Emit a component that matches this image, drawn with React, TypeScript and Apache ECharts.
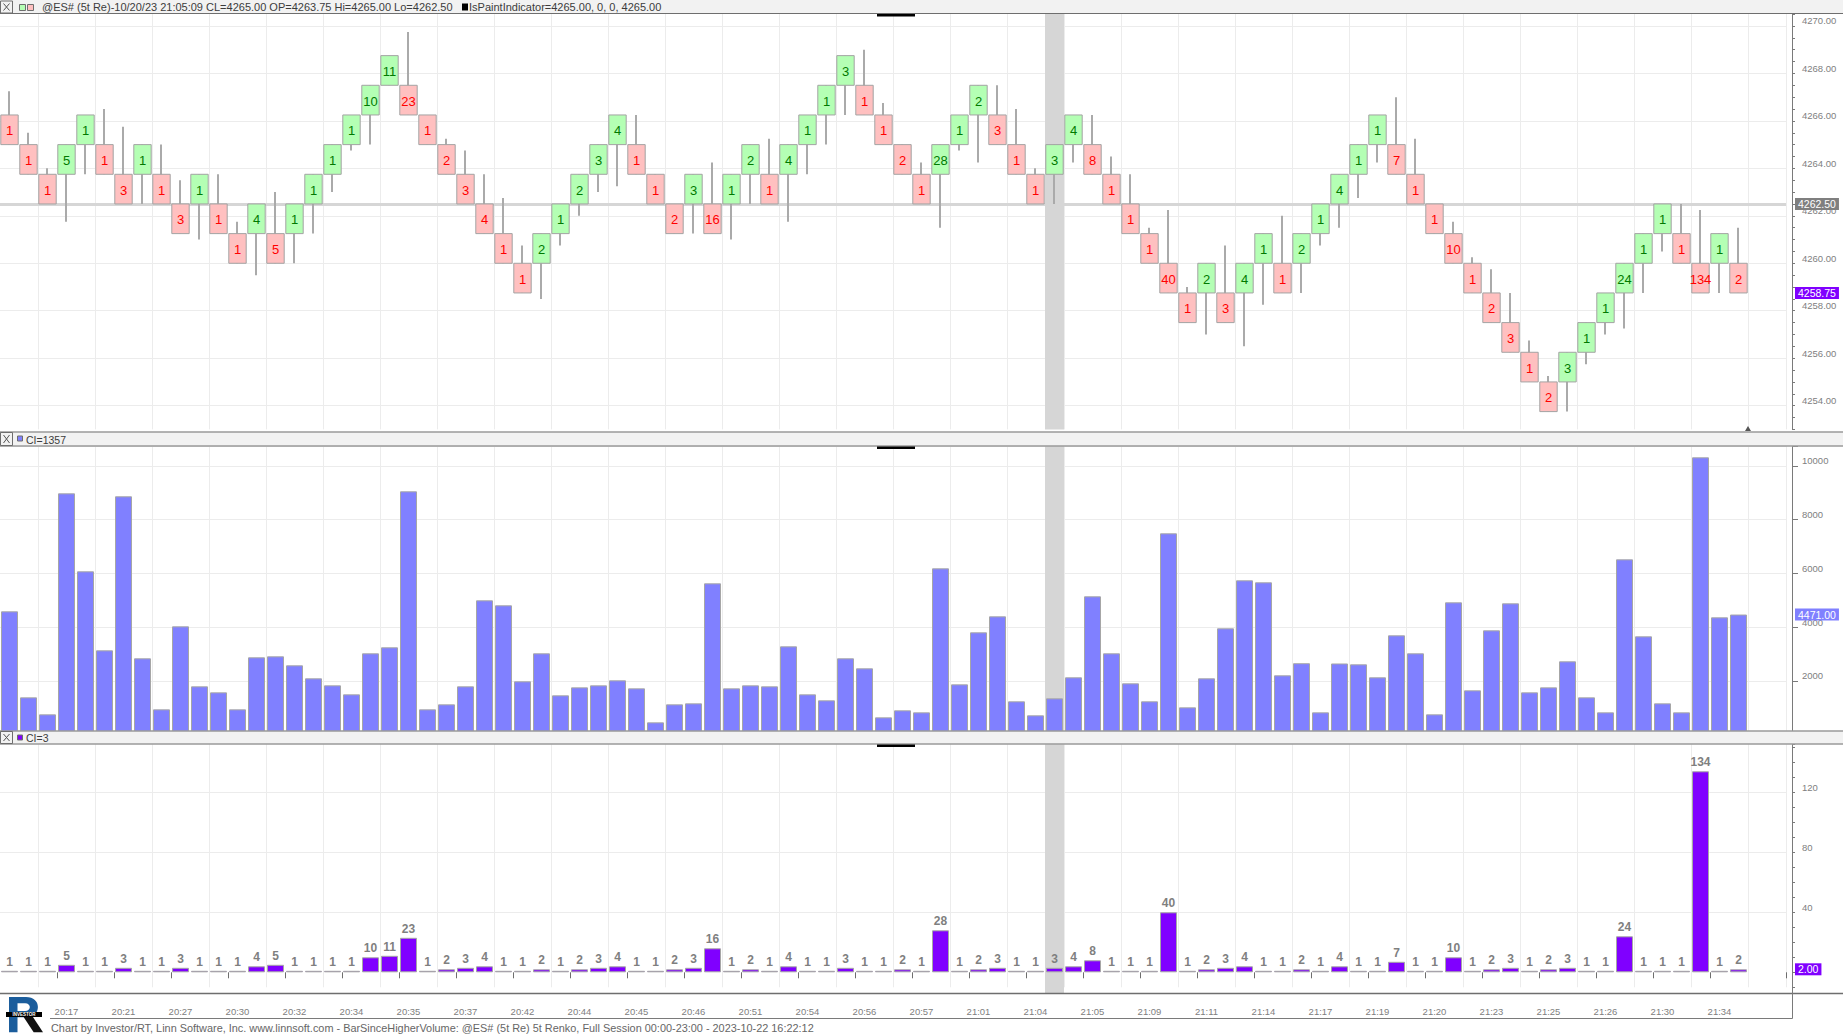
import React, { useEffect, useRef } from 'react';
import * as echarts from 'echarts';

// ---------------- data ----------------
const timeLabels = ['20:17', '20:21', '20:27', '20:30', '20:32', '20:34', '20:35', '20:37', '20:42', '20:44', '20:45', '20:46', '20:51', '20:54', '20:56', '20:57', '21:01', '21:04', '21:05', '21:09', '21:11', '21:14', '21:17', '21:19', '21:20', '21:23', '21:25', '21:26', '21:30', '21:34'];

const renkoOpen = [
  4266.25, 4265, 4263.75, 4263.75, 4265, 4265, 4263.75, 4263.75, 4263.75, 4262.5,
  4262.5, 4262.5, 4261.25, 4261.25, 4261.25, 4261.25, 4262.5, 4263.75, 4265, 4266.25,
  4267.5, 4267.5, 4266.25, 4265, 4263.75, 4262.5, 4261.25, 4260, 4260, 4261.25,
  4262.5, 4263.75, 4265, 4265, 4263.75, 4262.5, 4262.5, 4262.5, 4262.5, 4263.75,
  4263.75, 4263.75, 4265, 4266.25, 4267.5, 4267.5, 4266.25, 4265, 4263.75, 4263.75,
  4265, 4266.25, 4266.25, 4265, 4263.75, 4263.75, 4265, 4265, 4263.75, 4262.5,
  4261.25, 4260, 4258.75, 4258.75, 4258.75, 4258.75, 4260, 4260, 4260, 4261.25,
  4262.5, 4263.75, 4265, 4265, 4263.75, 4262.5, 4261.25, 4260, 4258.75, 4257.5,
  4256.25, 4255, 4255, 4256.25, 4257.5, 4258.75, 4260, 4261.25, 4261.25, 4260,
  4260, 4260,
];
const renkoClose = [
  4265, 4263.75, 4262.5, 4265, 4266.25, 4263.75, 4262.5, 4265, 4262.5, 4261.25,
  4263.75, 4261.25, 4260, 4262.5, 4260, 4262.5, 4263.75, 4265, 4266.25, 4267.5,
  4268.75, 4266.25, 4265, 4263.75, 4262.5, 4261.25, 4260, 4258.75, 4261.25, 4262.5,
  4263.75, 4265, 4266.25, 4263.75, 4262.5, 4261.25, 4263.75, 4261.25, 4263.75, 4265,
  4262.5, 4265, 4266.25, 4267.5, 4268.75, 4266.25, 4265, 4263.75, 4262.5, 4265,
  4266.25, 4267.5, 4265, 4263.75, 4262.5, 4265, 4266.25, 4263.75, 4262.5, 4261.25,
  4260, 4258.75, 4257.5, 4260, 4257.5, 4260, 4261.25, 4258.75, 4261.25, 4262.5,
  4263.75, 4265, 4266.25, 4263.75, 4262.5, 4261.25, 4260, 4258.75, 4257.5, 4256.25,
  4255, 4253.75, 4256.25, 4257.5, 4258.75, 4260, 4261.25, 4262.5, 4260, 4258.75,
  4261.25, 4258.75,
];
const renkoHigh = [
  4267.25, 4265.5, 4264, 4265, 4266.25, 4266.5, 4265.75, 4265, 4265, 4263.5,
  4263.75, 4263.75, 4261.75, 4262.5, 4263, 4262.5, 4263.75, 4265, 4266.25, 4267.5,
  4268.75, 4269.75, 4266.25, 4265.25, 4264.75, 4263.75, 4262.75, 4260.75, 4261.25, 4262.5,
  4263.75, 4265, 4266.25, 4266.25, 4263.75, 4262.5, 4263.75, 4264.25, 4263.75, 4265,
  4265.25, 4265, 4266.25, 4267.5, 4268.75, 4269, 4266.75, 4265, 4264.25, 4265,
  4266.25, 4267.5, 4267.5, 4266.5, 4264, 4265, 4266.25, 4266.25, 4264.5, 4263.75,
  4261.5, 4262.25, 4259, 4260, 4260.75, 4260, 4261.25, 4262, 4261.25, 4262.5,
  4263.75, 4265, 4266.25, 4267, 4265.25, 4262.5, 4261.75, 4260.25, 4259.75, 4258.75,
  4256.75, 4255.25, 4256.25, 4257.5, 4258.75, 4260, 4261.25, 4262.5, 4262.5, 4262.25,
  4261.25, 4261.5,
];
const renkoLow = [
  4265, 4263.75, 4262.5, 4261.75, 4263.75, 4263.75, 4262.5, 4262.5, 4262.5, 4261.25,
  4261, 4261.25, 4260, 4259.5, 4260, 4260, 4261.25, 4263, 4264.75, 4265,
  4267.5, 4266.25, 4265, 4263.75, 4262.5, 4261.25, 4260, 4258.75, 4258.5, 4260.75,
  4262, 4263, 4263.25, 4263.75, 4262.5, 4261.25, 4261.25, 4261.25, 4261, 4262.5,
  4262.5, 4261.75, 4263.75, 4265, 4266.25, 4266.25, 4265, 4263.75, 4262.5, 4261.5,
  4264.75, 4264.25, 4265, 4263.75, 4262.5, 4262.5, 4264.25, 4263.75, 4262.5, 4261.25,
  4260, 4258.75, 4257.5, 4257, 4257.5, 4256.5, 4258.25, 4258.75, 4258.75, 4260.75,
  4261.5, 4262.75, 4264.25, 4263.75, 4262.5, 4261.25, 4260, 4258.75, 4257.5, 4256.25,
  4255, 4253.75, 4253.75, 4255.75, 4257, 4257.25, 4258.75, 4260.5, 4260, 4258.75,
  4258.75, 4258.75,
];
const volume = [
  4590, 1390, 758, 8981, 6079, 3139, 8870, 2842, 944, 4032,
  1800, 1576, 944, 2879, 2916, 2581, 2097, 1837, 1502, 3028,
  3251, 9056, 944, 1130, 1800, 5000, 4814, 1986, 3028, 1465,
  1762, 1837, 2023, 1725, 460, 1130, 1167, 5632, 1725, 1837,
  1800, 3288, 1502, 1279, 2842, 2469, 646, 907, 832, 6190,
  1874, 3809, 4404, 1242, 721, 1353, 2135, 5149, 3028, 1911,
  1242, 7493, 1018, 2097, 3958, 5744, 5670, 2209, 2660, 832,
  2650, 2618, 2135, 3697, 3028, 758, 4925, 1651, 3883, 4888,
  1576, 1762, 2730, 1390, 832, 6525, 3660, 1167, 832, 10321,
  4367, 4471,
];
const barsSinceHigher = [
  1, 1, 1, 5, 1, 1, 3, 1, 1, 3,
  1, 1, 1, 4, 5, 1, 1, 1, 1, 10,
  11, 23, 1, 2, 3, 4, 1, 1, 2, 1,
  2, 3, 4, 1, 1, 2, 3, 16, 1, 2,
  1, 4, 1, 1, 3, 1, 1, 2, 1, 28,
  1, 2, 3, 1, 1, 3, 4, 8, 1, 1,
  1, 40, 1, 2, 3, 4, 1, 1, 2, 1,
  4, 1, 1, 7, 1, 1, 10, 1, 2, 3,
  1, 2, 3, 1, 1, 24, 1, 1, 1, 134,
  1, 2,
];
const priceGridLevels = [4254, 4256, 4258, 4260, 4262, 4264, 4266, 4268, 4270];
const ciGridLevels = [40, 80, 120];
const cursorIndex = 55;
const cursorPrice = 4262.5;
const emptySlots = 2;

// ---------------- layout / style ----------------
const FONT = 'Liberation Sans';
const PLOT_W = 1786;
const AXIS_X = 1792.5;
const GRID_COLOR = '#ececec';
const AXIS_COLOR = '#7a7a7a';
const LABEL_COLOR = '#808080';

echarts.graphic.registerShape(
  'logoR',
  echarts.graphic.extendPath(
    'M0 0 H20 C29 0 34 5 34 11.5 C34 18 29 23 20 23 H10 V40 H0 Z M10 7 V16 H19 C22.5 16 24.5 14 24.5 11.5 C24.5 9 22.5 7 19 7 Z',
    {}
  ) as any
);
echarts.graphic.registerShape(
  'logoLeg',
  echarts.graphic.extendPath('M16 21 H27 L40 40 H29 Z', {}) as any
);

function buildOption(): any {
  const n = volume.length;
  const isLabelSlot = (i: number) => i >= 3 && i % 3 === 0 && i / 3 - 1 < timeLabels.length;
  const isGridSlot = (i: number) => i % 3 === 2;
  const categories = Array.from({ length: n + emptySlots }, (_, i) => (isLabelSlot(i) ? timeLabels[i / 3 - 1] : ''));

  const xAxis = (gi: number, showLabels: boolean) => ({
    type: 'category',
    gridIndex: gi,
    data: categories,
    boundaryGap: true,
    offset: showLabels ? 6 : 0,
    axisLine: { show: false },
    axisTick: showLabels
      ? { show: true, interval: (i: number) => isLabelSlot(i), length: 6, lineStyle: { color: '#6e6e6e' } }
      : { show: false },
    axisLabel: showLabels
      ? { show: true, interval: (i: number) => isLabelSlot(i), color: LABEL_COLOR, fontSize: 9.5, fontFamily: FONT, margin: 13 }
      : { show: false },
    splitLine: { show: true, interval: (i: number) => isGridSlot(i), lineStyle: { color: GRID_COLOR, width: 1 } },
  });

  const yLabelBase = { color: LABEL_COLOR, fontSize: 9.5, fontFamily: FONT, margin: 10, verticalAlign: 'bottom', lineHeight: 10 };
  const isMult = (v: number, m: number) => Math.abs(v / m - Math.round(v / m)) < 1e-6;

  const tag = (bg: string) => ({
    show: true,
    position: 'end',
    color: '#ffffff',
    backgroundColor: bg,
    fontSize: 10.5,
    fontFamily: FONT,
    padding: [1, 3, 0, 3],
    distance: 9,
  });
  const hiddenLine = { color: 'rgba(255,255,255,0)', width: 1, type: 'solid' };

  const cursorSeries = (gi: number, yv: number, extendBottom: number, markLineData: any[]) => ({
    type: 'custom',
    xAxisIndex: gi,
    yAxisIndex: gi,
    z: 1,
    silent: true,
    clip: false,
    data: [[cursorIndex, yv]],
    renderItem: (params: any, api: any) => {
      const cs = params.coordSys;
      const p = api.coord([api.value(0), api.value(1)]);
      const w = api.size([1, 0])[0];
      return {
        type: 'rect',
        shape: { x: p[0] - w / 2, y: cs.y, width: w, height: cs.height + extendBottom },
        style: { fill: '#d6d6d6' },
      };
    },
    markLine: {
      silent: true,
      symbol: 'none',
      z: 0.5,
      animation: false,
      data: markLineData,
    },
  });

  const gridLine = (axisVal: number) => ({
    yAxis: axisVal,
    lineStyle: { color: GRID_COLOR, width: 1, type: 'solid' },
    label: { show: false },
  });

  const lastClose = renkoClose[n - 1];
  const lastVol = volume[n - 1];
  const lastCi = barsSinceHigher[n - 1];

  const renkoData = renkoOpen.map((o, i) => [i, o, renkoClose[i], renkoLow[i], renkoHigh[i], barsSinceHigher[i]]);

  const hdrX = (y0: number, y1: number) => [
    { type: 'rect', z: 102, shape: { x: 0.5, y: y0 + 1, width: 12, height: y1 - y0 - 2 }, style: { fill: 'none', stroke: '#6e6e6e', lineWidth: 1 } },
    { type: 'line', z: 102, shape: { x1: 3.5, y1: y0 + 3.5, x2: 9.5, y2: y1 - 3.5 }, style: { stroke: '#555555', lineWidth: 1 } },
    { type: 'line', z: 102, shape: { x1: 9.5, y1: y0 + 3.5, x2: 3.5, y2: y1 - 3.5 }, style: { stroke: '#555555', lineWidth: 1 } },
  ];
  const header = (y0: number, y1: number, topLine: boolean) => [
    { type: 'rect', z: 100, shape: { x: 0, y: y0, width: 1843, height: y1 - y0 }, style: { fill: '#f2f2f2' } },
    ...(topLine ? [{ type: 'line', z: 101, shape: { x1: 0, y1: y0 + 0.5, x2: 1843, y2: y0 + 0.5 }, style: { stroke: '#6e6e6e', lineWidth: 1 } }] : []),
    { type: 'line', z: 101, shape: { x1: 0, y1: y1 - 0.5, x2: 1843, y2: y1 - 0.5 }, style: { stroke: '#6e6e6e', lineWidth: 1 } },
    ...hdrX(y0, y1),
  ];
  const headerText = (x: number, y: number, text: string, size = 10.5, color = '#3c3c3c') => ({
    type: 'text', z: 103, x, y,
    style: { text, fill: color, fontSize: size, fontFamily: FONT, verticalAlign: 'middle', align: 'left' },
  });
  const square = (x: number, y: number, s: number, fill: string, stroke = '#6e6e6e') => ({
    type: 'rect', z: 103, shape: { x: x + 0.5, y: y + 0.5, width: s, height: s }, style: { fill, stroke, lineWidth: 1 },
  });
  const splitter = (y: number) => ({ type: 'rect', z: 104, shape: { x: 877, y, width: 38, height: 2.5 }, style: { fill: '#000000' } });

  const graphic: any[] = [
    // top header
    ...header(0, 14, false),
    square(19, 4, 6, '#b4ffb4'),
    square(27, 4, 6, '#ffc0c0'),
    headerText(42, 7, '@ES# (5t Re)-10/20/23 21:05:09 CL=4265.00 OP=4263.75 Hi=4265.00 Lo=4262.50', 11),
    { type: 'rect', z: 103, shape: { x: 462, y: 3.5, width: 6, height: 7 }, style: { fill: '#000000' } },
    headerText(469, 7, 'IsPaintIndicator=4265.00, 0, 0, 4265.00', 11),
    splitter(14),
    // middle header
    ...header(431.5, 446.5, true),
    square(17, 435.5, 5, '#8080ff'),
    headerText(26, 439.5, 'CI=1357'),
    splitter(446.5),
    // bottom header
    ...header(730.5, 744.5, true),
    square(17, 734.5, 5, '#8000ff'),
    headerText(26, 738, 'CI=3'),
    splitter(744.5),
    // bottom axis frame
    { type: 'line', z: 101, shape: { x1: 0, y1: 993.5, x2: 1843, y2: 993.5 }, style: { stroke: '#6e6e6e', lineWidth: 1.5 } },
    { type: 'line', z: 101, shape: { x1: 50, y1: 1018.5, x2: AXIS_X, y2: 1018.5 }, style: { stroke: '#7a7a7a', lineWidth: 1 } },
    { type: 'line', z: 101, shape: { x1: AXIS_X, y1: 987, x2: AXIS_X, y2: 1018.5 }, style: { stroke: AXIS_COLOR, lineWidth: 1 } },
    {
      type: 'text', z: 103, x: 51, y: 1028,
      style: {
        text: 'Chart by Investor/RT, Linn Software, Inc. www.linnsoft.com - BarSinceHigherVolume: @ES# (5t Re) 5t Renko, Full Session 00:00-23:00 - 2023-10-22 16:22:12',
        fill: '#666666', fontSize: 10.9, fontFamily: FONT, verticalAlign: 'middle', align: 'left',
      },
    },
    // logo
    { type: 'logoR', z: 103, x: 9, y: 997, scaleX: 0.85, scaleY: 0.88, style: { fill: '#1b5d9c' } },
    { type: 'logoLeg', z: 103, x: 9, y: 997, scaleX: 0.85, scaleY: 0.88, style: { fill: '#111111' } },
    { type: 'rect', z: 104, shape: { x: 6, y: 1012, width: 36, height: 5 }, style: { fill: '#000000' } },
    {
      type: 'text', z: 105, x: 24, y: 1014.5,
      style: { text: 'INVESTOR', fill: '#ffffff', fontSize: 4.5, fontFamily: FONT, fontWeight: 'bold', verticalAlign: 'middle', align: 'center' },
    },
    // small end-of-data marker
    { type: 'polygon', z: 103, shape: { points: [[1745, 431], [1751, 431], [1748, 426]] }, style: { fill: '#555555' } },
  ];

  return {
    animation: false,
    backgroundColor: '#ffffff',
    textStyle: { fontFamily: FONT },
    grid: [
      { left: 0, top: 14.1, width: PLOT_W, height: 415.3, containLabel: false, outerBoundsMode: 'none' },
      { left: 0, top: 446, width: PLOT_W, height: 288.7, containLabel: false, outerBoundsMode: 'none' },
      { left: 0, top: 744.3, width: PLOT_W, height: 243, containLabel: false, outerBoundsMode: 'none' },
    ],
    xAxis: [xAxis(0, false), xAxis(1, false), xAxis(2, true)],
    yAxis: [
      {
        type: 'value', gridIndex: 0, position: 'right', offset: 6,
        min: 4253, max: 4270.5, interval: 0.5,
        axisLine: { show: true, lineStyle: { color: AXIS_COLOR } },
        axisTick: { show: true, length: 3, lineStyle: { color: AXIS_COLOR } },
        axisLabel: { ...yLabelBase, formatter: (v: number) => (isMult(v, 2) ? v.toFixed(2) : '') },
        splitLine: { show: false },
      },
      {
        type: 'value', gridIndex: 1, position: 'right', offset: 6,
        min: 0, max: 10742, interval: 2000,
        axisLine: { show: true, lineStyle: { color: AXIS_COLOR } },
        axisTick: { show: true, length: 6, lineStyle: { color: AXIS_COLOR } },
        axisLabel: { ...yLabelBase, formatter: (v: number) => (v > 0 && isMult(v, 2000) ? String(v) : '') },
        splitLine: { show: true, lineStyle: { color: GRID_COLOR, width: 1 } },
      },
      {
        type: 'value', gridIndex: 2, position: 'right', offset: 6,
        min: -10, max: 152, interval: 10,
        axisLine: { show: true, lineStyle: { color: AXIS_COLOR } },
        axisTick: { show: true, length: 3, lineStyle: { color: AXIS_COLOR } },
        axisLabel: { ...yLabelBase, formatter: (v: number) => (ciGridLevels.indexOf(Math.round(v)) >= 0 && isMult(v, 1) ? String(Math.round(v)) : '') },
        splitLine: { show: false },
      },
    ],
    series: [
      cursorSeries(0, cursorPrice, 0, [
        ...priceGridLevels.map(gridLine),
        {
          yAxis: cursorPrice,
          lineStyle: { color: '#d6d6d6', width: 3, type: 'solid' },
          label: { ...tag('#7f7f7f'), formatter: cursorPrice.toFixed(2) },
        },
        {
          yAxis: lastClose,
          lineStyle: hiddenLine,
          label: { ...tag('#8000ff'), formatter: lastClose.toFixed(2) },
        },
      ]),
      {
        type: 'custom',
        xAxisIndex: 0,
        yAxisIndex: 0,
        z: 3,
        silent: true,
        data: renkoData,
        renderItem: (params: any, api: any) => {
          const x = api.value(0);
          const o = api.value(1);
          const c = api.value(2);
          const lo = api.value(3);
          const hi = api.value(4);
          const up = c > o;
          const top = api.coord([x, Math.max(o, c)]);
          const bot = api.coord([x, Math.min(o, c)]);
          const pH = api.coord([x, hi]);
          const pL = api.coord([x, lo]);
          const band = api.size([1, 0])[0];
          const w = band - 1.6;
          const cx = top[0];
          const label = String(barsSinceHigher[params.dataIndex]);
          return {
            type: 'group',
            children: [
              { type: 'line', shape: { x1: cx - 0.5, y1: pH[1], x2: cx - 0.5, y2: pL[1] }, style: { stroke: '#aaaaaa', lineWidth: 2 } },
              {
                type: 'rect',
                shape: { x: cx - w / 2, y: top[1], width: w, height: bot[1] - top[1] },
                style: { fill: up ? '#b4ffb4' : '#ffc0c0', stroke: '#a3a3a3', lineWidth: 1 },
              },
              {
                type: 'text',
                x: cx,
                y: (top[1] + bot[1]) / 2 + 1,
                style: {
                  text: label,
                  fill: up ? '#007a00' : '#ff0000',
                  fontSize: 13,
                  fontFamily: FONT,
                  align: 'center',
                  verticalAlign: 'middle',
                },
              },
            ],
          };
        },
      },
      cursorSeries(1, 0, 0, [
        {
          yAxis: lastVol,
          lineStyle: hiddenLine,
          label: { ...tag('#8080ff'), formatter: lastVol.toFixed(2) },
        },
      ]),
      {
        type: 'bar',
        xAxisIndex: 1,
        yAxisIndex: 1,
        z: 2,
        barWidth: 17,
        silent: true,
        data: volume,
        itemStyle: { color: '#8080ff', borderColor: '#a6a6a6', borderWidth: 1 },
      },
      cursorSeries(2, 0, 6, [
        ...ciGridLevels.map(gridLine),
        {
          yAxis: lastCi,
          lineStyle: hiddenLine,
          label: { ...tag('#8000ff'), formatter: lastCi.toFixed(2) },
        },
      ]),
      {
        type: 'bar',
        xAxisIndex: 2,
        yAxisIndex: 2,
        z: 2,
        barWidth: 17,
        silent: true,
        data: barsSinceHigher,
        itemStyle: { color: '#8000ff', borderColor: '#a6a6a6', borderWidth: 1 },
        label: {
          show: true,
          position: 'top',
          distance: 3,
          color: '#7f7f7f',
          fontWeight: 'bold',
          fontSize: 12,
          fontFamily: FONT,
        },
      },
    ],
    graphic: { elements: graphic },
  };
}

export default function App() {
  const ref = useRef<HTMLDivElement>(null);
  useEffect(() => {
    if (!ref.current) return;
    const chart = echarts.init(ref.current, undefined, { renderer: 'svg' });
    chart.setOption(buildOption());
    return () => {
      chart.dispose();
    };
  }, []);
  return (
    <div
      ref={ref}
      style={{ position: 'fixed', left: 0, top: 0, width: 1843, height: 1035, background: '#ffffff' }}
    />
  );
}
